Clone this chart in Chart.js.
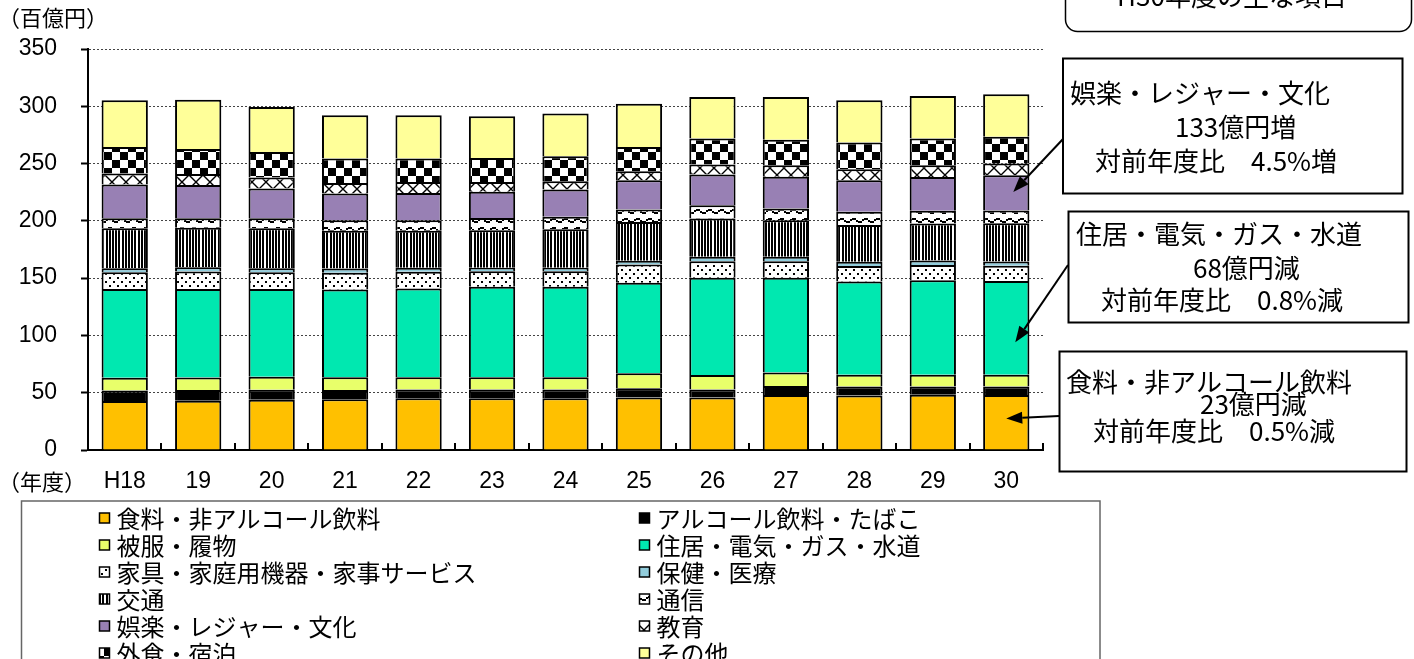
<!DOCTYPE html>
<html lang="ja">
<head>
<meta charset="utf-8">
<script src="https://cdn.jsdelivr.net/npm/chart.js@4.4.1/dist/chart.umd.min.js"></script>
<style>
  html, body { margin: 0; padding: 0; background: #fff; }
  canvas { display: block; }
</style>
</head>
<body>
<canvas id="spendChart" width="1414" height="659"></canvas>
<script>
// 目的別家計消費（百億円）
const years = ["H18", "19", "20", "21", "22", "23", "24", "25", "26", "27", "28", "29", "30"];
const yTicks = [0, 50, 100, 150, 200, 250, 300, 350];

const food = [42.7, 43.0, 43.9, 44.2, 45.1, 45.1, 45.1, 45.9, 45.9, 48.0, 47.6, 48.2, 48.0];
const alcohol = [9.3, 9.3, 8.7, 8.1, 7.8, 7.8, 7.8, 7.9, 7.0, 7.8, 7.9, 7.3, 7.5];
const clothing = [11.0, 11.0, 11.3, 11.1, 10.5, 10.5, 10.5, 13.1, 12.5, 11.9, 10.2, 10.2, 10.2];
const housing = [77.6, 77.3, 76.7, 76.7, 77.6, 79.0, 79.0, 79.0, 84.9, 82.6, 81.3, 82.4, 81.7];
const furniture = [14.5, 15.2, 14.5, 14.6, 14.5, 13.7, 13.7, 16.0, 14.5, 14.5, 13.6, 13.4, 13.4];
const health = [3.5, 3.6, 3.5, 3.7, 3.5, 2.9, 2.9, 3.2, 3.8, 3.8, 3.8, 3.8, 3.8];
const transport = [34.9, 34.5, 34.9, 32.9, 32.3, 32.9, 33.7, 34.0, 33.4, 32.0, 31.9, 32.5, 33.3];
const communication = [8.7, 8.4, 8.7, 9.3, 9.3, 10.7, 10.8, 10.8, 11.7, 10.2, 11.6, 11.0, 11.1];
const recreation = [29.6, 29.1, 26.1, 23.2, 23.8, 22.7, 23.8, 25.6, 26.7, 27.6, 27.6, 29.5, 30.8];
const education = [9.6, 9.6, 9.6, 9.3, 9.6, 8.7, 7.3, 7.8, 8.7, 10.1, 9.6, 10.3, 10.2];
const dining = [23.1, 21.8, 22.3, 21.3, 20.4, 20.9, 21.8, 21.2, 22.7, 22.4, 23.3, 23.3, 23.5];
const other = [40.7, 42.9, 39.2, 37.8, 37.8, 36.4, 37.2, 37.8, 36.3, 37.2, 36.8, 37.1, 37.0];

const JP = '"Noto Sans CJK JP", "Noto Sans", sans-serif';
const NUM = '"Liberation Sans", Arial, sans-serif';

// hatch fills
function makePattern(w, h, draw) {
  const c = document.createElement("canvas");
  c.width = w;
  c.height = h;
  const g = c.getContext("2d");
  g.fillStyle = "#fff";
  g.fillRect(0, 0, w, h);
  g.fillStyle = "#000";
  g.strokeStyle = "#000";
  draw(g);
  return g.createPattern(c, "repeat");
}

const dotFill = makePattern(8, 8, (g) => {
  g.fillRect(1, 1, 2, 2);
  g.fillRect(5, 5, 2, 2);
});
const stripeFill = makePattern(16, 4, (g) => {
  [0, 3, 6, 10, 13].forEach((x) => g.fillRect(x, 0, 2, 4));
});
const waveFill = makePattern(12, 9, (g) => {
  g.fillRect(0, 2, 4, 2);
  g.fillRect(4, 4, 2, 2);
  g.fillRect(6, 5, 4, 2);
  g.fillRect(10, 3, 2, 2);
});
const crossFill = makePattern(14, 14, (g) => {
  g.lineWidth = 1.4;
  g.beginPath();
  g.moveTo(0, 0); g.lineTo(14, 14);
  g.moveTo(14, 0); g.lineTo(0, 14);
  g.stroke();
});
const checkFill = makePattern(16, 16, (g) => {
  g.fillRect(0, 0, 8, 8);
  g.fillRect(8, 8, 8, 8);
});

const series = [
  { label: "食料・非アルコール飲料", data: food, fill: "#FFC000" },
  { label: "アルコール飲料・たばこ", data: alcohol, fill: "#000000" },
  { label: "被服・履物", data: clothing, fill: "#E8FF6A" },
  { label: "住居・電気・ガス・水道", data: housing, fill: "#00E8B0" },
  { label: "家具・家庭用機器・家事サービス", data: furniture, fill: dotFill },
  { label: "保健・医療", data: health, fill: "#92CDDC" },
  { label: "交通", data: transport, fill: stripeFill },
  { label: "通信", data: communication, fill: waveFill },
  { label: "娯楽・レジャー・文化", data: recreation, fill: "#9880B4" },
  { label: "教育", data: education, fill: crossFill },
  { label: "外食・宿泊", data: dining, fill: checkFill },
  { label: "その他", data: other, fill: "#FFFF99" },
];

// boundary ticks on the x axis, pointing up into the plot
const xTickMarks = {
  id: "xTickMarks",
  afterDatasetsDraw(chart) {
    const { ctx, scales: { x }, chartArea } = chart;
    const half = (x.getPixelForValue(1) - x.getPixelForValue(0)) / 2;
    ctx.save();
    ctx.strokeStyle = "#000";
    ctx.lineWidth = 2;
    years.forEach((_, i) => {
      const px = Math.round(x.getPixelForValue(i) + half);
      ctx.beginPath();
      ctx.moveTo(px, chartArea.bottom);
      ctx.lineTo(px, chartArea.bottom - 7);
      ctx.stroke();
    });
    ctx.restore();
  },
};

function arrow(ctx, x1, y1, x2, y2) {
  const ang = Math.atan2(y2 - y1, x2 - x1);
  const len = 16, wid = 6;
  const bx = x2 - Math.cos(ang) * len;
  const by = y2 - Math.sin(ang) * len;
  ctx.beginPath();
  ctx.moveTo(x1, y1);
  ctx.lineTo(bx, by);
  ctx.stroke();
  ctx.beginPath();
  ctx.moveTo(x2, y2);
  ctx.lineTo(bx + Math.sin(ang) * wid, by - Math.cos(ang) * wid);
  ctx.lineTo(bx - Math.sin(ang) * wid, by + Math.cos(ang) * wid);
  ctx.closePath();
  ctx.fill();
}

// axis captions, callout boxes and the two-column legend
const extras = {
  id: "extras",
  afterDraw(chart) {
    const ctx = chart.ctx;
    const x = chart.scales.x;
    const y = chart.scales.y;
    const last = years.length - 1;
    const barX = x.getPixelForValue(last);

    ctx.save();
    ctx.fillStyle = "#000";
    ctx.textBaseline = "middle";
    ctx.font = "22px " + JP;
    ctx.textAlign = "left";
    ctx.fillText("（百億円）", -2, 18);
    ctx.fillText("（年度）", -2, 482);

    // callouts
    ctx.strokeStyle = "#000";
    ctx.lineWidth = 1.5;
    ctx.beginPath();
    ctx.roundRect(1065.5, -30, 346, 61.5, 12);
    ctx.stroke();
    ctx.font = "26px " + JP;
    ctx.textAlign = "center";
    ctx.fillText("H30年度の主な項目", 1232, -4);
    ctx.textAlign = "left";

    ctx.lineWidth = 2;
    ctx.strokeRect(1063, 58.5, 339.5, 135);
    ctx.strokeRect(1068.5, 211.5, 340, 111);
    ctx.strokeRect(1059.5, 351.5, 347, 120);

    ctx.fillText("娯楽・レジャー・文化", 1070, 93);
    ctx.fillText("133億円増", 1175, 127);
    ctx.fillText("対前年度比　4.5%増", 1095, 161);

    ctx.fillText("住居・電気・ガス・水道", 1076, 234);
    ctx.fillText("68億円減", 1193, 268);
    ctx.fillText("対前年度比　0.8%減", 1101, 300);

    ctx.fillText("食料・非アルコール飲料", 1066, 382);
    ctx.fillText("23億円減", 1200, 404);
    ctx.fillText("対前年度比　0.5%減", 1093, 431);

    // arrows land inside the H30 segments
    const mid = (idx) => {
      let base = 0;
      for (let k = 0; k < idx; k++) base += series[k].data[last];
      return y.getPixelForValue(base + series[idx].data[last] / 2);
    };
    ctx.fillStyle = "#000";
    ctx.lineWidth = 2;
    arrow(ctx, 1063, 139, barX + 7, mid(8) - 1);
    arrow(ctx, 1068, 265, barX + 9, y.getPixelForValue(94));
    arrow(ctx, 1059, 416, barX, mid(0) - 4);

    // legend
    ctx.lineWidth = 1.5;
    ctx.strokeStyle = "#666";
    ctx.strokeRect(21.5, 501, 1078.5, 200);
    ctx.font = "24px " + JP;
    series.forEach((s, i) => {
      const col = i % 2;
      const row = Math.floor(i / 2);
      const sx = col === 0 ? 99.5 : 639.5;
      const cy = 518 + row * 27;
      ctx.fillStyle = s.fill;
      ctx.fillRect(sx, cy - 5, 10, 10);
      ctx.strokeStyle = "#000";
      ctx.lineWidth = 1.5;
      ctx.strokeRect(sx, cy - 5, 10, 10);
      ctx.fillStyle = "#000";
      ctx.fillText(s.label, sx + 17, cy + 1);
    });
    ctx.restore();
  },
};

new Chart(document.getElementById("spendChart"), {
  type: "bar",
  data: {
    labels: years,
    datasets: series.map((s) => ({
      label: s.label,
      data: s.data,
      backgroundColor: s.fill,
      borderColor: "#000",
      borderWidth: 2,
      barPercentage: 0.63,
      categoryPercentage: 1,
    })),
  },
  options: {
    responsive: false,
    animation: false,
    devicePixelRatio: 1,
    layout: { padding: { top: 49, right: 371, bottom: 0, left: 0 } },
    plugins: {
      legend: { display: false },
      tooltip: { enabled: false },
    },
    scales: {
      x: {
        stacked: true,
        grid: { display: false, drawTicks: false },
        border: { display: true, color: "#000", width: 2 },
        ticks: {
          color: "#000",
          font: { family: NUM, size: 23 },
          padding: 18,
          maxRotation: 0,
          autoSkip: false,
        },
        afterFit: (scale) => {
          scale.height = 209;
        },
      },
      y: {
        stacked: true,
        min: 0,
        max: 350,
        afterBuildTicks: (scale) => {
          scale.ticks = yTicks.map((v) => ({ value: v }));
        },
        grid: {
          color: "#444",
          lineWidth: 1,
          drawTicks: true,
          tickLength: 7,
          tickColor: "#000",
          tickWidth: 2,
          tickBorderDash: [],
        },
        border: { display: true, color: "#000", width: 2, dash: [2, 2] },
        ticks: {
          color: "#000",
          font: { family: NUM, size: 23 },
          padding: 24,
        },
        afterFit: (scale) => {
          scale.width = 88;
        },
      },
    },
  },
  plugins: [xTickMarks, extras],
});
</script>
</body>
</html>
